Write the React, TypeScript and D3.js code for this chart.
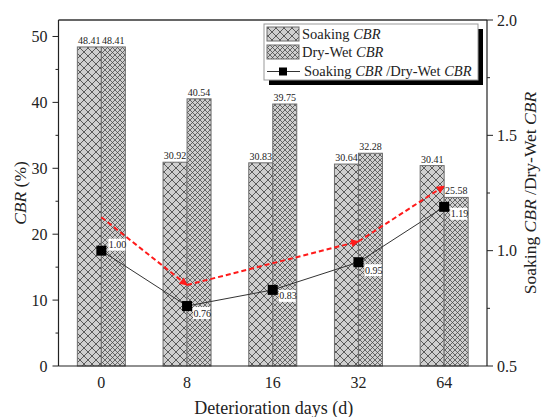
import React from 'react';
import * as d3 from 'd3';

const days = ['0', '8', '16', '32', '64'];
const soaking = [48.41, 30.92, 30.83, 30.64, 30.41];
const dryWet = [48.41, 40.54, 39.75, 32.28, 25.58];
const ratio = [1.0, 0.76, 0.83, 0.95, 1.19];
const ratioLabels = ['1.00', '0.76', '0.83', '0.95', '1.19'];
const trendDays = ['0', '8', '32', '64'];
const trendValues = [1.145, 0.851, 1.04, 1.28];
const leftTicks = [0, 10, 20, 30, 40, 50];
const leftMinor = [5, 15, 25, 35, 45];
const rightTicks = [0.5, 1.0, 1.5, 2.0];
const rightMinor = [0.75, 1.25, 1.75];

const W = 542, H = 417;
const M = { left: 58.5, right: 487, top: 20, bottom: 366 };
const FONT = "'Liberation Serif', 'Times New Roman', serif";

export default function App() {
  const x = d3.scaleBand<string>().domain(days).range([M.left, M.right]).padding(0);
  const yL = d3.scaleLinear().domain([0, 52.5]).range([M.bottom, M.top]);
  const yR = d3.scaleLinear().domain([0.5, 2.0]).range([M.bottom, M.top]);
  const bw = 24;
  const cx = (d: string) => (x(d) as number) + x.bandwidth() / 2;

  const ratioLine = d3.line<number>().x((_, i) => cx(days[i])).y((v) => yR(v));
  const trendPts = trendDays.map((d, i) => [cx(d), yR(trendValues[i])] as [number, number]);
  const labelOffsets = [[7, -6], [6, 7], [6, 6], [6, 8], [6, 7]];

  return (
    <svg width={W} height={H} style={{ display: 'block', position: 'absolute', left: 0, top: 0 }} fontFamily={FONT}>
      <defs>
        <pattern id="hatchA" patternUnits="userSpaceOnUse" width="8" height="8">
          <rect width="8" height="8" fill="#cfcfcf" />
          <path d="M0,0 L8,8 M8,0 L0,8" stroke="#444" strokeWidth="0.85" />
        </pattern>
        <pattern id="hatchB" patternUnits="userSpaceOnUse" width="5" height="5">
          <rect width="5" height="5" fill="#cfcfcf" />
          <path d="M0,0 L5,5 M5,0 L0,5" stroke="#444" strokeWidth="0.75" />
        </pattern>
        <marker id="arrow" viewBox="0 0 10 10" refX="9" refY="5" markerWidth="10" markerHeight="8" markerUnits="userSpaceOnUse" orient="auto">
          <path d="M0,0 L10,5 L0,10 z" fill="#ff1a1a" />
        </marker>
      </defs>
      <rect width={W} height={H} fill="#fff" />

      {/* bars */}
      {days.map((d, i) => (
        <g key={d}>
          <rect x={cx(d) - bw} y={yL(soaking[i])} width={bw} height={M.bottom - yL(soaking[i])}
            fill="url(#hatchA)" stroke="#6e6e6e" strokeWidth={1} />
          <rect x={cx(d)} y={yL(dryWet[i])} width={bw} height={M.bottom - yL(dryWet[i])}
            fill="url(#hatchB)" stroke="#6e6e6e" strokeWidth={1} />
          <text x={cx(d) - bw / 2} y={yL(soaking[i]) - 3} fontSize={10} textAnchor="middle" fill="#222">{soaking[i].toFixed(2)}</text>
          <text x={cx(d) + bw / 2} y={yL(dryWet[i]) - 3} fontSize={10} textAnchor="middle" fill="#222">{dryWet[i].toFixed(2)}</text>
        </g>
      ))}

      {/* trend dashed red */}
      {trendPts.slice(1).map((p, i) => (
        <line key={i} x1={trendPts[i][0]} y1={trendPts[i][1]} x2={p[0]} y2={p[1]}
          stroke="#ff1a1a" strokeWidth={2} strokeDasharray="5,3" markerEnd="url(#arrow)" />
      ))}

      {/* ratio line */}
      <path d={ratioLine(ratio) || ''} fill="none" stroke="#333" strokeWidth={1} />
      {ratio.map((v, i) => (
        <rect key={i} x={cx(days[i]) - 5} y={yR(v) - 5} width={10} height={10} fill="#000" />
      ))}
      {ratio.map((v, i) => {
        const tx = cx(days[i]) + labelOffsets[i][0];
        const ty = yR(v) + labelOffsets[i][1];
        return (
          <g key={'l' + i}>
            <rect x={tx} y={ty - 6} width={17} height={12} fill="#fff" />
            <text x={tx + 0.5} y={ty + 3.5} fontSize={10} fill="#222">{ratioLabels[i]}</text>
          </g>
        );
      })}

      {/* frame */}
      <line x1={M.left} x2={M.right} y1={M.top} y2={M.top} stroke="#333" strokeWidth={1.5} />
      <line x1={M.left} x2={M.right} y1={M.bottom} y2={M.bottom} stroke="#222" strokeWidth={1.2} />
      <line x1={M.left} x2={M.left} y1={M.top} y2={M.bottom} stroke="#222" strokeWidth={1.2} />
      <line x1={M.right} x2={M.right} y1={M.top} y2={M.bottom} stroke="#222" strokeWidth={1.2} />

      {/* left axis */}
      {leftTicks.map((t) => (
        <g key={t}>
          <line x1={M.left - 6} x2={M.left} y1={yL(t)} y2={yL(t)} stroke="#222" strokeWidth={1} />
          <text x={M.left - 11} y={yL(t) + 5.5} fontSize={16} textAnchor="end" fill="#222">{t}</text>
        </g>
      ))}
      {leftMinor.map((t) => (
        <line key={t} x1={M.left - 3} x2={M.left} y1={yL(t)} y2={yL(t)} stroke="#222" strokeWidth={1} />
      ))}
      <text transform={`translate(26,${(M.top + M.bottom) / 2}) rotate(-90)`} fontSize={17.5} textAnchor="middle" fill="#222">
        <tspan fontStyle="italic">CBR</tspan> (%)
      </text>

      {/* right axis */}
      {rightTicks.map((t) => (
        <g key={t}>
          <line x1={M.right} x2={M.right + 6} y1={yR(t)} y2={yR(t)} stroke="#222" strokeWidth={1} />
          <text x={M.right + 10} y={yR(t) + 5.5} fontSize={16} fill="#222">{t.toFixed(1)}</text>
        </g>
      ))}
      {rightMinor.map((t) => (
        <line key={t} x1={M.right} x2={M.right + 3} y1={yR(t)} y2={yR(t)} stroke="#222" strokeWidth={1} />
      ))}
      <text transform={`translate(536,${(M.top + M.bottom) / 2}) rotate(-90)`} fontSize={17.5} textAnchor="middle" fill="#222">
        Soaking <tspan fontStyle="italic">CBR</tspan> /Dry-Wet <tspan fontStyle="italic">CBR</tspan>
      </text>

      {/* x axis */}
      {days.map((d) => (
        <text key={d} x={cx(d)} y={388} fontSize={16} textAnchor="middle" fill="#222">{d}</text>
      ))}
      <text x={(M.left + M.right) / 2 + 1} y={414} fontSize={18} textAnchor="middle" fill="#222">Deterioration days (d)</text>

      {/* legend */}
      <g>
        <rect x={269} y={29} width={214} height={56} fill="#000" />
        <rect x={264} y={24} width={214} height={56} fill="#fff" stroke="#999" strokeWidth={1} />
        <rect x={267} y={27} width={32} height={14} fill="url(#hatchA)" stroke="#6e6e6e" />
        <text x={302} y={39} fontSize={14.5} fill="#222">Soaking <tspan fontStyle="italic">CBR</tspan></text>
        <rect x={267} y={45} width={32} height={14} fill="url(#hatchB)" stroke="#6e6e6e" />
        <text x={302} y={57} fontSize={14.5} fill="#222">Dry-Wet <tspan fontStyle="italic">CBR</tspan></text>
        <line x1={267} x2={300} y1={71.5} y2={71.5} stroke="#333" strokeWidth={1} />
        <rect x={279} y={67.5} width={8} height={8} fill="#000" />
        <text x={304} y={76} fontSize={14.5} fill="#222">Soaking <tspan fontStyle="italic">CBR</tspan> /Dry-Wet <tspan fontStyle="italic">CBR</tspan></text>
      </g>
    </svg>
  );
}
